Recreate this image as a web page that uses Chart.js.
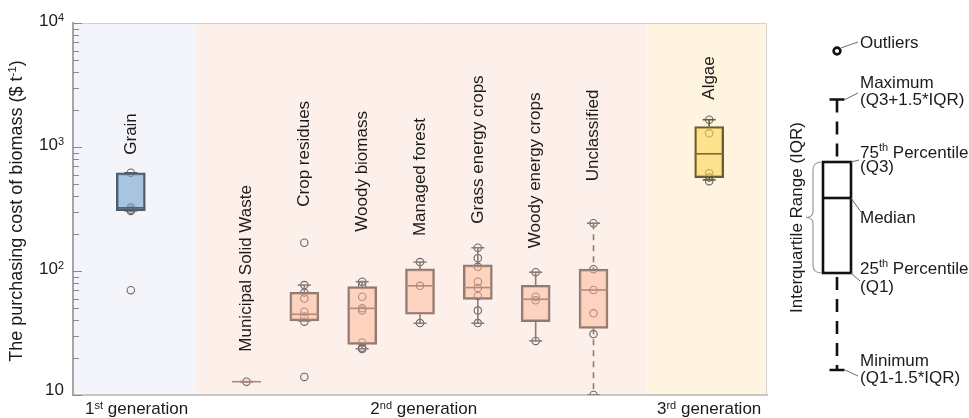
<!DOCTYPE html>
<html>
<head>
<meta charset="utf-8">
<title>Purchasing cost of biomass</title>
<script src="https://cdn.jsdelivr.net/npm/chart.js@4.4.0/dist/chart.umd.min.js"></script>
<style>
  html, body { margin: 0; padding: 0; background: #fff; }
  canvas { display: block; }
</style>
</head>
<body>
<canvas id="chart" width="969" height="418"></canvas>
<script>
// ---- data -------------------------------------------------------------
// Slots along the x axis; blank slots separate the three generations.
const slots = ['', 'Grain', '', 'Municipal Solid Waste', 'Crop residues', 'Woody biomass',
  'Managed forest', 'Grass energy crops', 'Woody energy crops', 'Unclassified', '', 'Algae', ''];

const feedstocks = ['Grain', 'Municipal Solid Waste', 'Crop residues', 'Woody biomass',
  'Managed forest', 'Grass energy crops', 'Woody energy crops', 'Unclassified', 'Algae'];
const generationOf = [0, 1, 1, 1, 1, 1, 1, 1, 2];
const generations = ['1^{st} generation', '2^{nd} generation', '3^{rd} generation'];

// Box statistics ($ per tonne)
const whiskerLow  = [306, 12.8, 39.6, 23.6, 37.9, 37.9, 27.3, 10, 543];
const q1          = [306, 12.8, 39.6, 25.6, 44.8, 59, 39.1, 34.5, 567];
const medians     = [323, 12.8, 44.8, 50, 76, 73.5, 59.2, 70.3, 881];
const q3          = [619, 12.8, 67.4, 74.8, 104, 112, 76.8, 103.5, 1463];
const whiskerHigh = [619, 12.8, 77, 82, 118, 154, 97.8, 243, 1660];

// Individual reported prices
const obsGrain        = [620, 325, 312, 305, 70];
const obsMSW          = [12.8];
const obsCropResidues = [169, 77, 67, 60, 47, 43, 39, 14];
const obsWoodyBiomass = [82, 77, 62, 50, 48, 26.5, 24, 23.5];
const obsManaged      = [118, 76, 38];
const obsGrass        = [154, 127, 108, 82, 73, 63, 48, 38];
const obsWoodyEnergy  = [97.8, 62, 58, 27.3];
const obsUnclassified = [243, 103.5, 70.3, 45.6, 31, 10];
const obsAlgae        = [1660, 1290, 615, 567, 530];
const observations = [obsGrain, obsMSW, obsCropResidues, obsWoodyBiomass, obsManaged,
  obsGrass, obsWoodyEnergy, obsUnclassified, obsAlgae];

const yMin = 10, yMax = 10000;
const yTitle = 'The purchasing cost of biomass ($ t^{-1})';
const dashedWhiskers = ['Unclassified'];

// ---- layout & style ---------------------------------------------------
const FONT_FAMILY = '"Liberation Sans", Arial, Helvetica, sans-serif';
const MAIN_PX = 17, SUP_PX = 11, SUP_RAISE = 5.5;
const TITLE_PX = 18;
const TEXT_COLOR = '#1b1b1b';
const bandEdges = [0, 2.13, 9.93, 12];           // in slot units
const labelGap = [18, 30, 36, 50, 26, 24, 24, 42, 20]; // px between top mark and rotated name
const genStyle = [
  { band: '#f4f4fb', fill: 'rgba(119,164,206,0.6)', border: '#505c69', median: '#505c69' },
  { band: '#fdf0ea', fill: 'rgba(253,180,148,0.5)', border: '#8e7c74', median: '#b08a7e' },
  { band: '#fff4df', fill: 'rgba(252,211,85,0.6)',  border: '#6a5d35', median: '#7a6a3a' }
];
const styleOf = i => genStyle[generationOf[i]];

// ---- rich text helpers -----------------------------------------------
function parseRuns(str) {
  const parts = str.split(/\^\{([^}]*)\}/);
  return parts.map((t, i) => ({ text: t, sup: i % 2 === 1 })).filter(r => r.text.length);
}
function drawRuns(ctx, str, x, y, align, size) {
  const px = size || MAIN_PX;
  const supPx = px * SUP_PX / MAIN_PX, raise = px * SUP_RAISE / MAIN_PX;
  const runs = parseRuns(str);
  const widths = runs.map(r => {
    ctx.font = `${r.sup ? supPx : px}px ${FONT_FAMILY}`;
    return ctx.measureText(r.text).width;
  });
  const total = widths.reduce((a, b) => a + b, 0);
  let cx = align === 'right' ? x - total : align === 'center' ? x - total / 2 : x;
  ctx.textAlign = 'left';
  runs.forEach((r, i) => {
    ctx.font = `${r.sup ? supPx : px}px ${FONT_FAMILY}`;
    ctx.fillText(r.text, cx, r.sup ? y - raise : y);
    cx += widths[i];
  });
}

// ---- datasets ---------------------------------------------------------
const boxDataset = {
  type: 'bar',
  order: 4,
  data: feedstocks.map((f, i) => ({ x: f, y: [q1[i], q3[i]] })),
  backgroundColor: feedstocks.map((f, i) => styleOf(i).fill),
  borderColor: feedstocks.map((f, i) => styleOf(i).border),
  borderWidth: 2,
  borderSkipped: false,
  barThickness: 29
};

const whiskerDatasets = feedstocks.map((f, i) => ({
  type: 'line',
  order: 3,
  data: [{ x: f, y: whiskerHigh[i] }, { x: f, y: q3[i] }, { x: f, y: null },
         { x: f, y: q1[i] }, { x: f, y: whiskerLow[i] }],
  borderColor: styleOf(i).border,
  borderWidth: 1.6,
  borderDash: dashedWhiskers.includes(f) ? [6, 5] : [],
  pointRadius: 0,
  spanGaps: false
}));

const capPoints = [], capColors = [];
feedstocks.forEach((f, i) => {
  capPoints.push({ x: f, y: whiskerHigh[i] }, { x: f, y: whiskerLow[i] });
  capColors.push(styleOf(i).border, styleOf(i).border);
});
const capDataset = {
  type: 'line', order: 2, showLine: false, data: capPoints,
  pointStyle: 'line', pointRadius: 6.5, pointBorderWidth: 1.6,
  pointBorderColor: capColors, pointBackgroundColor: capColors
};

const medianDataset = {
  type: 'line', order: 1, showLine: false,
  data: feedstocks.map((f, i) => ({ x: f, y: medians[i] })),
  pointStyle: 'line', pointRadius: 14.5, pointBorderWidth: 1.6,
  pointBorderColor: feedstocks.map((f, i) => styleOf(i).median)
};

const obsPoints = [];
feedstocks.forEach((f, i) => observations[i].forEach(v => obsPoints.push({ x: f, y: v })));
const observationDataset = {
  type: 'line', order: 5, showLine: false, data: obsPoints,
  pointStyle: 'circle', pointRadius: 3.7, pointBorderWidth: 1.1,
  pointBorderColor: '#666666', pointBackgroundColor: 'rgba(0,0,0,0)'
};

// ---- plugins ----------------------------------------------------------
const generationBands = {
  id: 'generationBands',
  beforeDraw(chart) {
    const { ctx, chartArea: a, scales: { x } } = chart;
    ctx.save();
    ctx.fillStyle = '#ffffff';
    ctx.fillRect(0, 0, chart.width, chart.height);
    generations.forEach((g, i) => {
      const x0 = x.getPixelForValue(bandEdges[i]);
      const x1 = x.getPixelForValue(bandEdges[i + 1]);
      ctx.fillStyle = genStyle[i].band;
      ctx.fillRect(x0, a.top, x1 - x0, a.bottom - a.top);
    });
    ctx.restore();
  },
  beforeDatasetsDraw(chart) {
    const { ctx, chartArea: a } = chart;
    ctx.save();
    ctx.strokeStyle = '#d2d2d2';
    ctx.lineWidth = 1;
    ctx.beginPath();
    ctx.moveTo(a.left, a.top + 0.5);
    ctx.lineTo(a.right - 0.5, a.top + 0.5);
    ctx.lineTo(a.right - 0.5, a.bottom);
    ctx.stroke();
    ctx.restore();
  }
};

const feedstockNames = {
  id: 'feedstockNames',
  afterDatasetsDraw(chart) {
    const { ctx, scales: { x, y } } = chart;
    ctx.save();
    ctx.fillStyle = TEXT_COLOR;
    ctx.font = `${MAIN_PX}px ${FONT_FAMILY}`;
    ctx.textAlign = 'left';
    ctx.textBaseline = 'middle';
    feedstocks.forEach((f, i) => {
      const top = Math.max(whiskerHigh[i], ...observations[i]);
      const px = x.getPixelForValue(slots.indexOf(f));
      const py = y.getPixelForValue(top) - labelGap[i];
      ctx.save();
      ctx.translate(px, py);
      ctx.rotate(-Math.PI / 2);
      ctx.fillText(f, 0, 0);
      ctx.restore();
    });
    ctx.restore();
  }
};

const axisDecor = {
  id: 'axisDecor',
  afterDraw(chart) {
    const { ctx, chartArea: a, scales: { x, y } } = chart;
    ctx.save();
    // inward tick marks on the log axis
    ctx.strokeStyle = '#8a8a8a';
    ctx.lineWidth = 1;
    const e0 = Math.round(Math.log10(yMin)), e1 = Math.round(Math.log10(yMax));
    for (let e = e0; e <= e1; e++) {
      for (let m = 1; m <= 9; m++) {
        const v = m * Math.pow(10, e);
        if (v > yMax) break;
        const py = Math.round(y.getPixelForValue(v)) + 0.5;
        const len = m === 1 ? 9 : 6;
        ctx.beginPath();
        ctx.moveTo(a.left, py);
        ctx.lineTo(a.left + len, py);
        ctx.stroke();
      }
    }
    // tick labels 10, 10^2, ...
    ctx.fillStyle = TEXT_COLOR;
    ctx.textBaseline = 'alphabetic';
    for (let e = e0; e <= e1; e++) {
      const py = y.getPixelForValue(Math.pow(10, e));
      const label = e === 1 ? '10' : `10^{${e}}`;
      drawRuns(ctx, label, a.left - 9, py + (e === e0 ? 0 : 3), 'right');
    }
    // axis title
    ctx.save();
    ctx.translate(22, (a.top + a.bottom) / 2 + 2);
    ctx.rotate(-Math.PI / 2);
    drawRuns(ctx, yTitle, 0, 0, 'center', TITLE_PX);
    ctx.restore();
    // generation labels under each band
    generations.forEach((g, i) => {
      const cx = (x.getPixelForValue(bandEdges[i]) + x.getPixelForValue(bandEdges[i + 1])) / 2;
      drawRuns(ctx, g, cx + 2, a.bottom + 19, 'center');
    });
    ctx.restore();
    drawKey(ctx);
  }
};

// explanatory box-plot key on the right
function drawKey(ctx) {
  const cx = 837, boxL = 823, boxR = 851, cap = 7.5;
  const maxY = 99.5, q3Y = 162, medY = 198, q1Y = 273, minY = 370;
  ctx.save();
  ctx.strokeStyle = '#111';
  ctx.lineWidth = 2.6;
  // outlier
  ctx.beginPath();
  ctx.arc(cx, 51, 3.4, 0, Math.PI * 2);
  ctx.stroke();
  // whiskers
  ctx.setLineDash([13, 9]);
  ctx.beginPath();
  ctx.moveTo(cx, maxY); ctx.lineTo(cx, q3Y);
  ctx.stroke();
  ctx.beginPath();
  ctx.moveTo(cx, q1Y + 4); ctx.lineTo(cx, minY);
  ctx.stroke();
  ctx.setLineDash([]);
  ctx.beginPath();
  ctx.moveTo(cx - cap, maxY); ctx.lineTo(cx + cap, maxY);
  ctx.moveTo(cx - cap, minY); ctx.lineTo(cx + cap, minY);
  ctx.stroke();
  // box and median
  ctx.strokeRect(boxL, q3Y, boxR - boxL, q1Y - q3Y);
  ctx.beginPath();
  ctx.moveTo(boxL, medY); ctx.lineTo(boxR, medY);
  ctx.stroke();
  // leaders
  ctx.strokeStyle = '#6a6a6a';
  ctx.lineWidth = 1;
  const leaders = [[841, 48, 858, 42], [845, maxY, 858, 93], [851, q3Y, 859, 160],
                   [851, medY, 861, 212], [851, q1Y, 860, 281], [845, minY, 858, 376]];
  leaders.forEach(([a, b, c, d]) => {
    ctx.beginPath(); ctx.moveTo(a, b); ctx.lineTo(c, d); ctx.stroke();
  });
  // brace spanning the IQR
  ctx.strokeStyle = '#9a9a9a';
  ctx.lineWidth = 1.2;
  const bx = 813, tip = 806, mid = (q3Y + q1Y) / 2;
  ctx.beginPath();
  ctx.moveTo(822, q3Y);
  ctx.quadraticCurveTo(bx, q3Y, bx, q3Y + 8);
  ctx.lineTo(bx, mid - 6);
  ctx.quadraticCurveTo(bx, mid, tip, mid);
  ctx.quadraticCurveTo(bx, mid, bx, mid + 6);
  ctx.lineTo(bx, q1Y - 8);
  ctx.quadraticCurveTo(bx, q1Y, 822, q1Y);
  ctx.stroke();
  // texts
  ctx.fillStyle = TEXT_COLOR;
  ctx.textBaseline = 'middle';
  const tx = 860;
  [['Outliers', 43], ['Maximum', 83], ['(Q3+1.5*IQR)', 100], ['75^{th} Percentile', 153],
   ['(Q3)', 167], ['Median', 218], ['25^{th} Percentile', 269], ['(Q1)', 287],
   ['Minimum', 361], ['(Q1-1.5*IQR)', 378]].forEach(([t, yy]) => drawRuns(ctx, t, tx, yy, 'left'));
  ctx.save();
  ctx.translate(797, mid);
  ctx.rotate(-Math.PI / 2);
  drawRuns(ctx, 'Interquartile Range (IQR)', 0, 0, 'center');
  ctx.restore();
  ctx.restore();
}

// ---- chart ------------------------------------------------------------
new Chart(document.getElementById('chart'), {
  type: 'bar',
  data: {
    labels: slots,
    datasets: [observationDataset, boxDataset, ...whiskerDatasets, capDataset, medianDataset]
  },
  options: {
    responsive: false,
    animation: false,
    events: [],
    layout: { padding: { left: 73, right: 202, top: 23, bottom: 23 } },
    plugins: { legend: { display: false }, tooltip: { enabled: false } },
    scales: {
      x: {
        type: 'category',
        offset: false,
        grid: { display: false, drawTicks: false },
        ticks: { display: false },
        border: { display: true, color: '#c6c6c6', width: 2 }
      },
      y: {
        type: 'logarithmic',
        min: yMin,
        max: yMax,
        grid: { display: false, drawTicks: false },
        ticks: { display: false },
        border: { display: true, color: '#a6a6a6', width: 2 }
      }
    }
  },
  plugins: [generationBands, feedstockNames, axisDecor]
});
</script>
</body>
</html>
